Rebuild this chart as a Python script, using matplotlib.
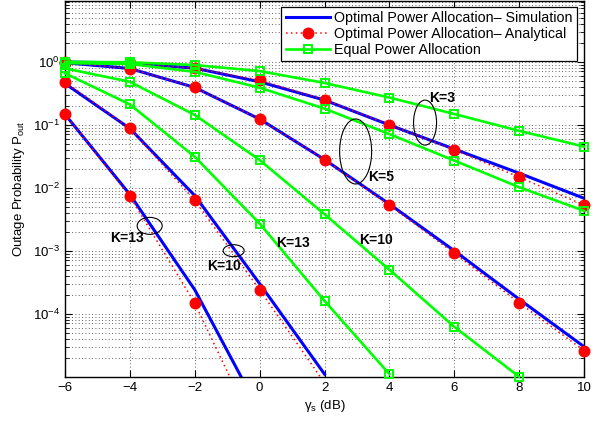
import numpy as np
import matplotlib
matplotlib.use("Agg")
import matplotlib.pyplot as plt
import matplotlib.transforms as mtransforms
from matplotlib.patches import Ellipse
from matplotlib.lines import Line2D

plt.rcParams['font.family'] = ['Liberation Sans', 'DejaVu Sans']
plt.rcParams['mathtext.fontset'] = 'custom'
plt.rcParams['mathtext.rm'] = 'Liberation Sans'
plt.rcParams['mathtext.it'] = 'Liberation Sans:italic'
plt.rcParams['mathtext.bf'] = 'Liberation Sans:bold'

# ---------------- data ----------------
snr_db = [-6, -4, -2, 0, 2, 4, 6, 8, 10]

# Optimal power allocation - simulation (blue)
sim_k3 = [0.99, 0.95, 0.79, 0.48, 0.246, 0.099, 0.041, 0.017, 0.0068]
sim_k5 = [0.965, 0.78, 0.39, 0.123, 0.028, 0.0055, 1.0e-3, 1.7e-4, 3.0e-5]
sim_k10 = [0.45, 0.087, 0.0075, 3.0e-4, 1.1e-5]
sim_k13 = [0.146, 0.0078, 2.4e-4, 2.8e-6]

# Optimal power allocation - analytical (red)
ana_k3 = [0.99, 0.94, 0.79, 0.51, 0.25, 0.10, 0.040, 0.0147, 0.0053]
ana_k5 = [0.97, 0.78, 0.39, 0.123, 0.028, 0.0053, 9.1e-4, 1.49e-4, 2.6e-5]
ana_k10 = [0.48, 0.088, 0.0063, 2.4e-4, 8e-6]
ana_k13 = [0.148, 0.0073, 1.47e-4, 1.0e-6]

# Equal power allocation (green)
eq_k3 = [1.0, 0.98, 0.886, 0.71, 0.46, 0.27, 0.148, 0.080, 0.045]
eq_k5 = [0.95, 0.92, 0.69, 0.387, 0.18, 0.071, 0.027, 0.0102, 0.0043]
eq_k10 = [0.785, 0.48, 0.143, 0.0275, 0.0038, 5.0e-4, 6.2e-5, 1.0e-5]
eq_k13 = [0.655, 0.21, 0.031, 0.0027, 1.6e-4, 1.1e-5]

legend_labels = ['Optimal Power Allocation\u2013 Simulation',
                 'Optimal Power Allocation\u2013 Analytical',
                 'Equal Power Allocation']

x_ticks = [-6, -4, -2, 0, 2, 4, 6, 8, 10]
y_ticks = [1e-4, 1e-3, 1e-2, 1e-1, 1e0]
y_min, y_max = 1.0e-5, 9.2

# annotations: (text, x, y)
k_labels = [('K=3', 5.22, 0.27), ('K=5', 3.36, 0.0148),
            ('K=13', -4.6, 1.62e-3), ('K=10', -1.61, 5.8e-4),
            ('K=13', 0.52, 1.33e-3), ('K=10', 3.06, 1.5e-3)]
# ellipses: (x, y, width_in, height_in)
ellipses = [(5.10, 0.108, 0.23, 0.45), (2.96, 0.0376, 0.32, 0.65),
            (-3.39, 2.48e-3, 0.25, 0.17), (-0.80, 1.0e-3, 0.21, 0.12)]

# ---------------- plot ----------------
fig = plt.figure(figsize=(5.92, 4.21), dpi=100)
ax = fig.add_axes([65/592, (421-376.7)/421, 519/592, 375.7/421])

blue, red, green = '#0000ff', '#ff0000', '#00ff00'
red_ls = (0, (1, 2.2))

def masked(vals):
    v = np.array(vals, dtype=float)
    return np.where((v >= y_min*0.999) & (v <= y_max), v, np.nan)

# simulation lines
for vals in [sim_k3, sim_k5, sim_k10, sim_k13]:
    xs = snr_db[:len(vals)]
    ax.plot(xs, vals, color=blue, lw=2.2, zorder=2)

# analytical dotted lines + markers
for vals in [ana_k3, ana_k5, ana_k10, ana_k13]:
    xs = snr_db[:len(vals)]
    ax.plot(xs, vals, color=red, ls=red_ls, lw=1.1, zorder=3)
    ax.plot(xs, masked(vals), ls='none', marker='o', ms=7.6, color=red,
            mec=red, clip_on=False, zorder=3)

# equal power
for vals in [eq_k3, eq_k5, eq_k10, eq_k13]:
    xs = snr_db[:len(vals)]
    ax.plot(xs, vals, color=green, lw=1.9, marker='s', ms=5.5, mfc='none',
            mec=green, mew=1.4, clip_on=False, zorder=4)

ax.set_yscale('log')
ax.set_xlim(-6, 10)
ax.set_ylim(y_min, y_max)
ax.set_xticks(x_ticks)
ax.set_yticks(y_ticks)
ax.yaxis.set_minor_locator(matplotlib.ticker.LogLocator(base=10, subs=np.arange(2, 10)))
ax.yaxis.set_minor_formatter(matplotlib.ticker.NullFormatter())

ax.grid(True, which='major', axis='both', ls=(0, (1, 3)), color='#303030', lw=0.6)
ax.grid(True, which='minor', axis='y', ls=(0, (1, 3)), color='#303030', lw=0.6)
ax.set_axisbelow(True)

ax.tick_params(which='both', direction='in', top=True, right=True, labelsize=9.5)
ax.tick_params(which='major', length=5, width=0.8)
ax.tick_params(which='minor', length=3, width=0.6)
for s in ax.spines.values():
    s.set_linewidth(1.0)

ax.set_xlabel('$\\mathregular{\\gamma_s}$ (dB)', fontsize=9.5, labelpad=3)
ax.set_ylabel('Outage Probability P$_{\\mathregular{out}}$', fontsize=9.5, labelpad=4)

for txt, xx, yy in k_labels:
    ax.text(xx, yy, txt, fontsize=10, fontweight='bold', ha='left', va='center', zorder=6)

for xx, yy, w, h in ellipses:
    tr = fig.dpi_scale_trans + mtransforms.ScaledTranslation(xx, yy, ax.transData)
    ax.add_patch(Ellipse((0, 0), w, h, transform=tr, fill=False, ec='black', lw=0.8, zorder=6))

# legend
handles = [Line2D([], [], color=blue, lw=2.2),
           Line2D([], [], color=red, ls=red_ls, lw=1.1, marker='o', ms=7.6, mec=red),
           Line2D([], [], color=green, lw=1.9, marker='s', ms=5.5, mfc='none', mec=green, mew=1.4)]
leg = ax.legend(handles, legend_labels, loc='upper right',
                bbox_to_anchor=((577-65)/519, (376.7-7)/375.7), borderaxespad=0,
                fontsize=10.3, handlelength=3.1, handletextpad=0.3, labelspacing=0.12,
                borderpad=0.3, fancybox=False, framealpha=1, edgecolor='black')
leg.get_frame().set_linewidth(0.9)
leg.set_zorder(10)

fig.savefig('out.png', dpi=100, facecolor='white')
